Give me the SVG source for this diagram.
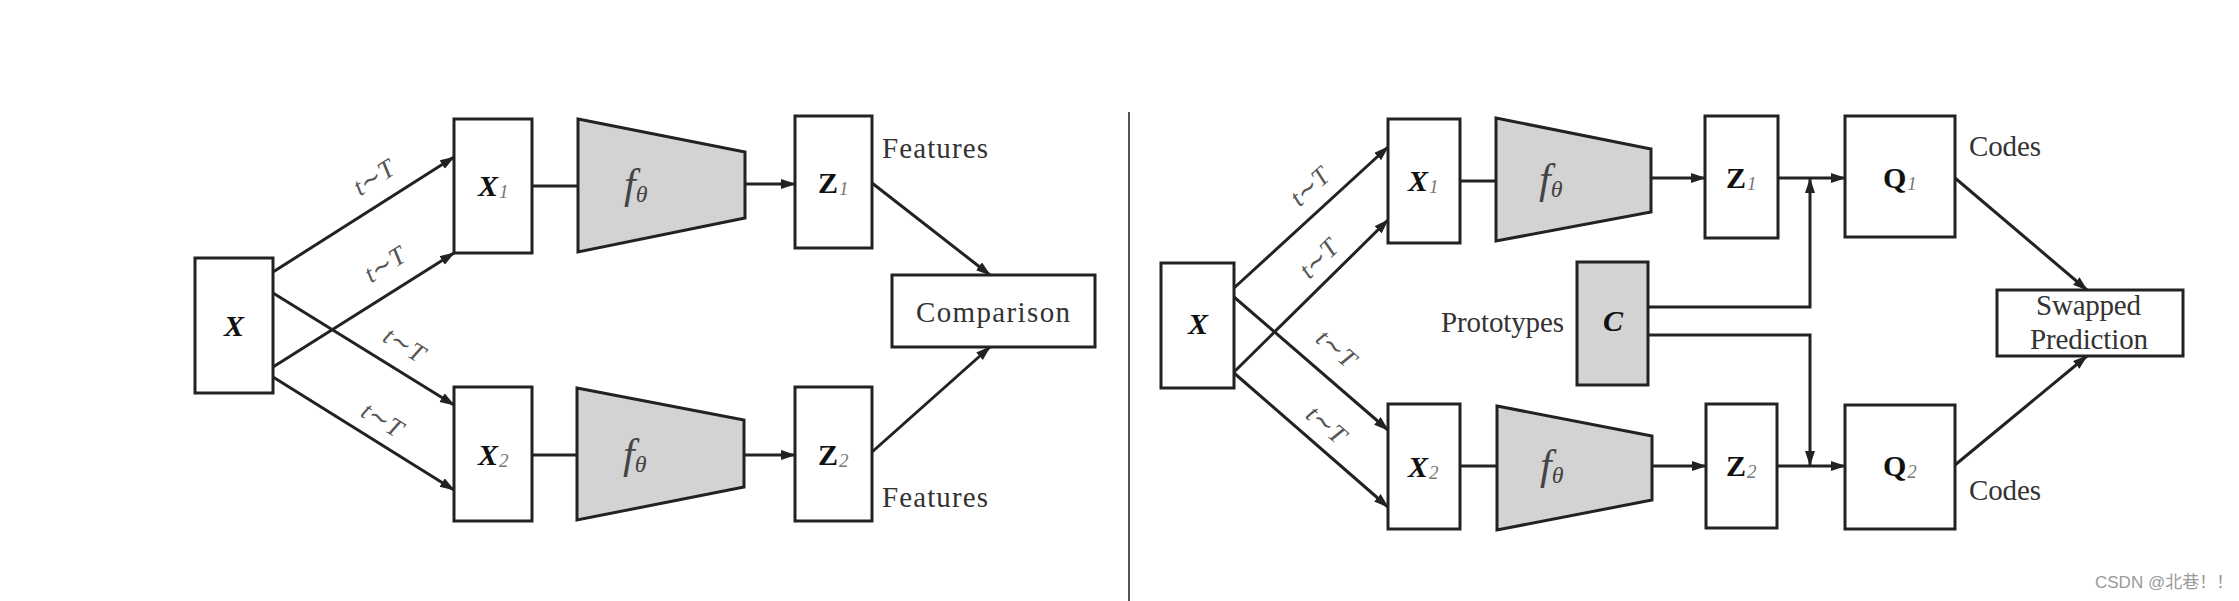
<svg xmlns="http://www.w3.org/2000/svg" width="2239" height="601" viewBox="0 0 2239 601">
<defs>
<marker id="ah" markerUnits="userSpaceOnUse" markerWidth="16" markerHeight="12" refX="14" refY="5" orient="auto">
<path d="M0,0 L15,5 L0,10 Z" fill="#222"/>
</marker>
<style>
.box{fill:#fff;stroke:#222;stroke-width:3}
.gray{fill:#d3d3d3;stroke:#222;stroke-width:3}
.ln{fill:none;stroke:#222;stroke-width:3}
.ar{fill:none;stroke:#222;stroke-width:3;marker-end:url(#ah)}
.lbl{font-family:"Liberation Serif","DejaVu Serif",serif;font-size:29px;fill:#333}
.var{font-family:"Liberation Serif","DejaVu Serif",serif;font-size:30px;font-weight:bold;fill:#111}
.it{font-style:italic}
.sub{font-size:19px;font-weight:normal;font-style:italic;fill:#777}
.f{font-family:"Liberation Serif","DejaVu Serif",serif;font-size:42px;font-style:italic;fill:#444}
.th{font-size:24px}
.t{font-family:"Liberation Serif","DejaVu Serif",serif;font-size:26px;font-style:italic;fill:#555;text-anchor:middle}
.wm{font-family:"Liberation Sans","Noto Sans CJK SC",sans-serif;font-size:17px;fill:#999}
</style>
</defs>
<rect width="2239" height="601" fill="#fff"/>
<line x1="1129" y1="112" x2="1129" y2="601" stroke="#555" stroke-width="2"/>

<g id="connectors">
<!-- left -->
<line class="ar" x1="273" y1="272" x2="454" y2="157"/>
<line class="ar" x1="273" y1="367" x2="454" y2="253"/>
<line class="ar" x1="273" y1="293" x2="454" y2="405"/>
<line class="ar" x1="273" y1="377" x2="454" y2="490"/>
<line class="ln" x1="532" y1="186" x2="578" y2="186"/>
<line class="ln" x1="532" y1="455" x2="577" y2="455"/>
<line class="ar" x1="745" y1="184" x2="795" y2="184"/>
<line class="ar" x1="744" y1="455" x2="795" y2="455"/>
<line class="ar" x1="872" y1="183" x2="990" y2="275"/>
<line class="ar" x1="872" y1="452" x2="990" y2="347"/>
<!-- right -->
<line class="ar" x1="1234" y1="288" x2="1388" y2="147"/>
<line class="ar" x1="1234" y1="372" x2="1388" y2="220"/>
<line class="ar" x1="1234" y1="297" x2="1388" y2="430"/>
<line class="ar" x1="1234" y1="373" x2="1388" y2="507"/>
<line class="ln" x1="1460" y1="181" x2="1496" y2="181"/>
<line class="ln" x1="1460" y1="466" x2="1497" y2="466"/>
<line class="ar" x1="1651" y1="178" x2="1705" y2="178"/>
<line class="ar" x1="1652" y1="466" x2="1706" y2="466"/>
<line class="ar" x1="1778" y1="178" x2="1845" y2="178"/>
<line class="ar" x1="1777" y1="466" x2="1845" y2="466"/>
<polyline class="ar" points="1648,307 1810,307 1810,179"/>
<polyline class="ar" points="1648,335 1810,335 1810,465"/>
<line class="ar" x1="1955" y1="178" x2="2087" y2="290"/>
<line class="ar" x1="1955" y1="465" x2="2087" y2="356"/>
</g>

<g id="t-labels">
<text class="t" x="374" y="186" transform="rotate(-32.4 374 178)">t∼T</text>
<text class="t" x="385" y="273" transform="rotate(-32.3 385 265)">t∼T</text>
<text class="t" x="404" y="353" transform="rotate(31.7 404 345)">t∼T</text>
<text class="t" x="382" y="428" transform="rotate(31.7 382 420)">t∼T</text>
<text class="t" x="1310" y="195" transform="rotate(-42.5 1310 187)">t∼T</text>
<text class="t" x="1319" y="267" transform="rotate(-44.6 1319 259)">t∼T</text>
<text class="t" x="1336" y="357" transform="rotate(41 1336 349)">t∼T</text>
<text class="t" x="1326" y="433" transform="rotate(41 1326 425)">t∼T</text>
</g>

<!-- left half nodes -->
<g id="L-X">
<rect class="box" x="195" y="258" width="78" height="135"/>
<text class="var it" x="234" y="336" text-anchor="middle">X</text>
</g>
<g id="L-X1">
<rect class="box" x="454" y="119" width="78" height="134"/>
<text class="var it" x="478" y="196">X<tspan class="sub" dx="1" dy="2">1</tspan></text>
</g>
<g id="L-X2">
<rect class="box" x="454" y="387" width="78" height="134"/>
<text class="var it" x="478" y="465">X<tspan class="sub" dx="1" dy="2">2</tspan></text>
</g>
<g id="L-f1">
<polygon class="gray" points="578,119 745,152 745,218 578,252"/>
<text class="f" x="624" y="198">f<tspan class="th" dy="4">θ</tspan></text>
</g>
<g id="L-f2">
<polygon class="gray" points="577,388 744,420 744,487 577,520"/>
<text class="f" x="623" y="468">f<tspan class="th" dy="4">θ</tspan></text>
</g>
<g id="L-Z1">
<rect class="box" x="795" y="116" width="77" height="132"/>
<text class="var" x="818" y="193">Z<tspan class="sub" dx="1" dy="2">1</tspan></text>
<text class="lbl" x="882" y="158" textLength="106">Features</text>
</g>
<g id="L-Z2">
<rect class="box" x="795" y="387" width="77" height="134"/>
<text class="var" x="818" y="465">Z<tspan class="sub" dx="1" dy="2">2</tspan></text>
<text class="lbl" x="882" y="507" textLength="106">Features</text>
</g>
<g id="L-Comparison">
<rect class="box" x="892" y="275" width="203" height="72"/>
<text class="lbl" x="916" y="322" textLength="154" font-size="30">Comparison</text>
</g>

<!-- right half nodes -->
<g id="R-X">
<rect class="box" x="1161" y="263" width="73" height="125"/>
<text class="var it" x="1198" y="334" text-anchor="middle">X</text>
</g>
<g id="R-X1">
<rect class="box" x="1388" y="119" width="72" height="124"/>
<text class="var it" x="1408" y="191">X<tspan class="sub" dx="1" dy="2">1</tspan></text>
</g>
<g id="R-X2">
<rect class="box" x="1388" y="404" width="72" height="125"/>
<text class="var it" x="1408" y="477">X<tspan class="sub" dx="1" dy="2">2</tspan></text>
</g>
<g id="R-f1">
<polygon class="gray" points="1496,118 1651,149 1651,212 1496,241"/>
<text class="f" x="1539" y="193">f<tspan class="th" dy="4">θ</tspan></text>
</g>
<g id="R-f2">
<polygon class="gray" points="1497,406 1652,436 1652,500 1497,530"/>
<text class="f" x="1540" y="479">f<tspan class="th" dy="4">θ</tspan></text>
</g>
<g id="R-C">
<rect class="gray" x="1577" y="262" width="71" height="123"/>
<text class="var it" x="1613" y="331" text-anchor="middle">C</text>
<text class="lbl" x="1441" y="332" textLength="123" font-size="28">Prototypes</text>
</g>
<g id="R-Z1">
<rect class="box" x="1705" y="116" width="73" height="122"/>
<text class="var" x="1726" y="188">Z<tspan class="sub" dx="1" dy="2">1</tspan></text>
</g>
<g id="R-Z2">
<rect class="box" x="1706" y="404" width="71" height="124"/>
<text class="var" x="1726" y="476">Z<tspan class="sub" dx="1" dy="2">2</tspan></text>
</g>
<g id="R-Q1">
<rect class="box" x="1845" y="116" width="110" height="121"/>
<text class="var" x="1883" y="188">Q<tspan class="sub" dx="1" dy="2">1</tspan></text>
<text class="lbl" x="1969" y="156" textLength="72" font-size="28">Codes</text>
</g>
<g id="R-Q2">
<rect class="box" x="1845" y="405" width="110" height="124"/>
<text class="var" x="1883" y="476">Q<tspan class="sub" dx="1" dy="2">2</tspan></text>
<text class="lbl" x="1969" y="500" textLength="72" font-size="28">Codes</text>
</g>
<g id="R-Swapped">
<rect class="box" x="1997" y="290" width="186" height="66"/>
<text class="lbl" x="2036" y="315" textLength="105" font-size="28">Swapped</text>
<text class="lbl" x="2030" y="349" textLength="118" font-size="28">Prediction</text>
</g>

<text class="wm" x="2095" y="588">CSDN @北巷！！</text>
</svg>
